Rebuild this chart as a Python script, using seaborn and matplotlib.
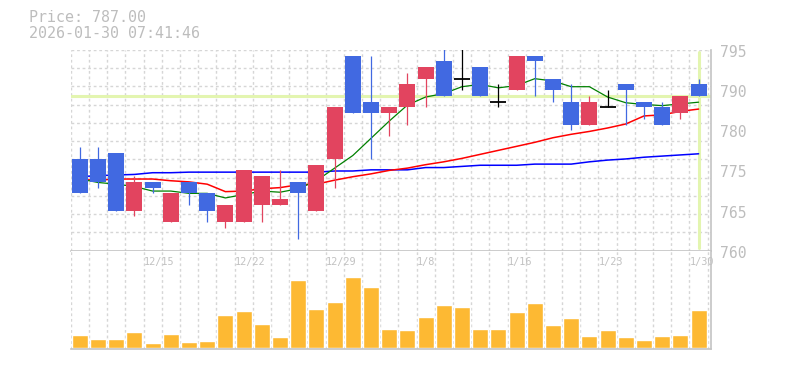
import matplotlib
matplotlib.use('Agg')
import matplotlib.pyplot as plt
import matplotlib.transforms as mtransforms
import numpy as np
import seaborn as sns

# trading days shown on the chart
dates = ["12/9", "12/10", "12/11", "12/12", "12/15", "12/16", "12/17", "12/18", "12/19",
         "12/22", "12/23", "12/24", "12/25", "12/26", "12/29", "12/30",
         "1/5", "1/6", "1/7", "1/8", "1/9", "1/13", "1/14", "1/15", "1/16",
         "1/19", "1/20", "1/21", "1/22", "1/23", "1/26", "1/27", "1/28", "1/29", "1/30"]

opens = [776, 776, 777, 767, 772, 765, 772, 770, 765, 765, 768, 768, 772, 767, 776, 794, 786, 784,
         785, 790, 793, 790, 792, 786, 788, 794, 790, 786, 782, 785, 789, 786, 785, 784, 789]
highs = [778, 778, 777, 773, 772, 770, 772, 770, 768, 774, 773, 774, 772, 775, 785, 794, 794, 785,
         791, 792, 796, 796, 792, 789, 794, 794, 790, 789, 787, 788, 789, 786, 786, 787, 790]
lows = [770, 771, 767, 766, 770, 765, 768, 765, 764, 765, 765, 768, 762, 767, 771, 784, 776, 780,
        782, 785, 787, 788, 787, 785, 788, 787, 786, 781, 782, 785, 782, 783, 782, 783, 787]
closes = [770, 772, 767, 772, 771, 770, 770, 767, 768, 774, 773, 769, 770, 775, 785, 784, 784, 785,
          789, 792, 787, 790, 787, 786, 794, 793, 788, 782, 786, 785, 788, 785, 782, 787, 787]

# moving averages
ma_short = [772.5, 771.9, 771.6, 771.2, 770.4, 770.4, 770.0, 770.0, 769.2, 769.8, 770.4, 770.2,
            770.8, 772.2, 774.4, 776.6, 779.6, 782.6, 785.4, 786.8, 787.4, 788.6, 789.0, 788.4,
            788.8, 790.0, 789.6, 788.6, 788.6, 786.8, 785.8, 785.5, 785.3, 785.6, 785.9]
ma_mid = [772.4, 772.3, 772.5, 772.5, 772.5, 772.2, 772.0, 771.6, 770.3, 770.4, 770.8, 771.0,
          771.5, 771.6, 772.3, 772.9, 773.4, 774.0, 774.4, 775.0, 775.5, 776.1, 776.8, 777.5,
          778.2, 778.9, 779.7, 780.3, 780.8, 781.4, 782.1, 783.5, 783.7, 784.3, 784.7]
ma_long = [772.9, 773.1, 773.2, 773.3, 773.6, 773.6, 773.7, 773.7, 773.7, 773.7, 773.7, 773.7,
           773.7, 773.7, 773.9, 773.9, 774.1, 774.1, 774.1, 774.5, 774.5, 774.7, 774.9, 774.9,
           774.9, 775.1, 775.1, 775.1, 775.5, 775.8, 776.0, 776.3, 776.5, 776.7, 776.9]

# volume (thousand shares)
volume = [13, 9, 9, 16, 5, 14, 6, 7, 33, 37, 24, 11, 68, 39, 46, 71, 61, 19, 18, 31, 43, 41,
          19, 19, 36, 45, 23, 30, 12, 18, 11, 8, 12, 13, 38]

price_now = 787.00
stamp = "2026-01-30 07:41:46"
ytick_labels = ["760", "765", "775", "780", "790", "795"]

UP = "#e2445f"
DOWN = "#4169e1"
VOL = "#fdb933"
HILITE = "#e3f5b0"
GRID = "#d6d6d6"
FRAME = "#c4c4c4"
TXT = "#bdbdbd"

sns.set_style("white")
plt.rcParams['font.family'] = ['DejaVu Sans Mono', 'DejaVu Sans']

fig = plt.figure(figsize=(7.85, 3.70), dpi=100)
ax = fig.add_axes([70.7 / 785, 119.3 / 370, 640 / 785, 200.7 / 370])
axv = fig.add_axes([70.7 / 785, 21 / 370, 640 / 785, 98.3 / 370])

idx = np.arange(len(dates))
xmin, xmax = -0.5, -0.5 + 640 / 18.2
w = 0.88

# grid
for k in range(len(dates) + 1):
    for a in (ax, axv):
        a.axvline(k - 0.5, color=GRID, lw=1, ls=(0, (2, 2)), zorder=0.5)
for yv in np.linspace(760, 795, 12)[1:]:
    ax.axhline(yv, color=GRID, lw=1, ls=(0, (2, 2)), zorder=0.5)

# current price / last day markers
ax.axhline(price_now, color=HILITE, lw=2.2, zorder=1)
ax.axvline(idx[-1], ymin=0.013, ymax=0.99, color=HILITE, lw=2.2, zorder=1)

# moving averages
sns.lineplot(x=idx, y=ma_long, ax=ax, color="blue", lw=1.1, zorder=2)
sns.lineplot(x=idx, y=ma_mid, ax=ax, color="red", lw=1.1, zorder=2)
sns.lineplot(x=idx, y=ma_short, ax=ax, color="green", lw=0.9, zorder=2)

# candles
for i, o, h, l, c in zip(idx, opens, highs, lows, closes):
    if c > o:
        col = UP
    elif c < o:
        col = DOWN
    else:
        col = "black"
    ax.vlines(i, l, h, color=col, lw=0.9, zorder=3)
    if c == o:
        ax.hlines(c, i - w / 2, i + w / 2, color=col, lw=1.3, zorder=3)
    else:
        ax.bar(i, abs(c - o), bottom=min(o, c), width=w, color=col, lw=0, zorder=3)

ax.set_xlim(xmin, xmax)
ax.set_ylim(760, 795)
ax.set_xticks([])
ax.set_yticks([])
ax.set_xlabel("")
ax.set_ylabel("")
for s in ("left", "top"):
    ax.spines[s].set_visible(False)
for s in ("right", "bottom"):
    ax.spines[s].set_color(FRAME)
    ax.spines[s].set_linewidth(1.2)

# price labels on the right
lab_tr = mtransforms.offset_copy(
    mtransforms.blended_transform_factory(ax.transAxes, ax.transData),
    fig=fig, x=0, y=-2.5, units='dots')
for yv, lab in zip(np.linspace(760, 795, len(ytick_labels)), ytick_labels):
    ax.text((720 - 70.7) / 640, yv, lab, transform=lab_tr, ha='left', va='center',
            fontsize=10.6, color=TXT)

# volume
sns.barplot(x=idx, y=volume, ax=axv, color=VOL, width=w, saturation=1, errorbar=None, zorder=2)
axv.set_xlim(xmin, xmax)
axv.set_ylim(-1.3, 97)
axv.set_xticks([])
axv.set_yticks([])
axv.set_xlabel("")
axv.set_ylabel("")
for s in ("left", "top"):
    axv.spines[s].set_visible(False)
for s in ("right", "bottom"):
    axv.spines[s].set_color(FRAME)
    axv.spines[s].set_linewidth(1.2)

date_tr = mtransforms.blended_transform_factory(axv.transData, axv.transAxes)
for i in idx[4::5]:
    axv.text(i - 0.5, 0.885, dates[i], transform=date_tr, ha='left', va='center',
             fontsize=7.4, color="#c2c2c2", clip_on=False)

fig.text(29 / 785, 1 - 17.7 / 370, f"Price: {price_now:.2f}", ha='left', va='center',
         fontsize=10.8, color=TXT)
fig.text(29 / 785, 1 - 33.3 / 370, stamp, ha='left', va='center', fontsize=10.8, color=TXT)

fig.savefig("out.png", dpi=100)
